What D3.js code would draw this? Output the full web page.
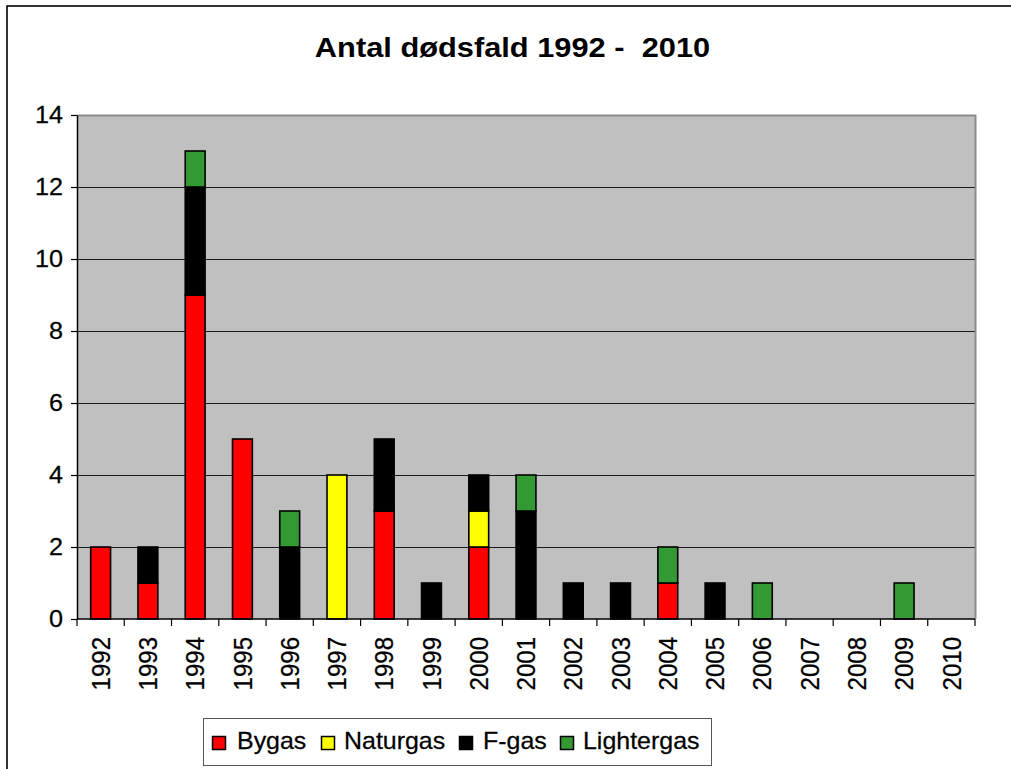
<!DOCTYPE html>
<html>
<head>
<meta charset="utf-8">
<script src="https://cdn.jsdelivr.net/npm/d3@7"></script>
<style>
  html, body { margin: 0; padding: 0; background: #fff; }
  svg { display: block; font-family: "Liberation Sans", Arial, sans-serif; }
  text { white-space: pre; }
</style>
</head>
<body>
<svg id="chart" width="1011" height="769"></svg>
<script>
const title = "Antal dødsfald 1992 -  2010";
const years = ["1992","1993","1994","1995","1996","1997","1998","1999","2000","2001","2002","2003","2004","2005","2006","2007","2008","2009","2010"];
const seriesNames = ["Bygas","Naturgas","F-gas","Lightergas"];
const seriesColors = ["#ff0000","#ffff00","#000000","#339933"];
const bygas      = [2,1,9,5,0,0,3,0,2,0,0,0,1,0,0,0,0,0,0];
const naturgas   = [0,0,0,0,0,4,0,0,1,0,0,0,0,0,0,0,0,0,0];
const fgas       = [0,1,3,0,2,0,2,1,1,3,1,1,0,1,0,0,0,0,0];
const lightergas = [0,0,1,0,1,0,0,0,0,1,0,0,1,0,1,0,0,1,0];
const yTicks = [0,2,4,6,8,10,12,14];

const svg = d3.select("#chart");
const plot = {left: 77, right: 975, top: 115, bottom: 619};

// outer chart border (extends beyond view)
svg.append("rect").attr("x",7).attr("y",6).attr("width",1100).attr("height",900)
  .attr("fill","#fff").attr("stroke","#000").attr("stroke-width",1.6);

// title
const tg = svg.append("g").attr("transform","translate(512.5,57) scale(1.1,1)");
tg.append("text").attr("x",0).attr("y",0).attr("text-anchor","middle")
  .attr("font-weight","bold").attr("font-size",28).attr("fill","#000").text(title);

const x = d3.scaleBand().domain(years).range([plot.left, plot.right]).paddingInner(0).paddingOuter(0);
const y = d3.scaleLinear().domain([0,14]).range([plot.bottom, plot.top]);

// plot area
svg.append("rect").attr("x",plot.left).attr("y",plot.top)
  .attr("width",plot.right-plot.left).attr("height",plot.bottom-plot.top)
  .attr("fill","#c0c0c0");

// gridlines
svg.append("g").selectAll("line").data(yTicks.filter(d=>d>0 && d<14)).join("line")
  .attr("x1",plot.left).attr("x2",plot.right)
  .attr("y1",d=>Math.round(y(d))+0.5).attr("y2",d=>Math.round(y(d))+0.5)
  .attr("stroke","#1a1a1a").attr("stroke-width",1.2);

// plot border top & right
svg.append("path").attr("d",`M${plot.left},${plot.top+0.5}H${plot.right+0.5}V${plot.bottom}`)
  .attr("fill","none").attr("stroke","#8c8c8c").attr("stroke-width",2);

// stacked data
const table = years.map((yr,i)=>({year:yr, Bygas:bygas[i], Naturgas:naturgas[i], "F-gas":fgas[i], Lightergas:lightergas[i]}));
const stack = d3.stack().keys(seriesNames)(table);
const barW = x.bandwidth()*0.42;
svg.append("g").selectAll("g").data(stack).join("g")
  .attr("fill",(d,i)=>seriesColors[i])
  .selectAll("rect").data(d=>d.filter(p=>p[1]-p[0]>0)).join("rect")
  .attr("x",d=>x(d.data.year)+(x.bandwidth()-barW)/2)
  .attr("y",d=>y(d[1]))
  .attr("width",barW)
  .attr("height",d=>y(d[0])-y(d[1]))
  .attr("stroke","#000").attr("stroke-width",1.6);

// y axis
const yAxis = svg.append("g").attr("transform",`translate(${plot.left},0)`)
  .call(d3.axisLeft(y).tickValues(yTicks).tickSize(6).tickPadding(8).tickSizeOuter(0));
yAxis.select(".domain").attr("stroke","#000").attr("stroke-width",1.5);
yAxis.selectAll(".tick line").attr("stroke","#000").attr("stroke-width",1.2);
yAxis.selectAll(".tick text").attr("font-size",24).attr("fill","#000")
  .attr("stroke","#000").attr("stroke-width",0.25)
  .attr("font-family","'Liberation Sans', Arial, sans-serif")
  .each(function(){
    const el = d3.select(this);
    const xx = +el.attr("x");
    el.attr("transform","scale(1.05,1)").attr("x", xx/1.05);
  });

// x axis: ticks at band boundaries
const xAxisG = svg.append("g");
xAxisG.append("line").attr("x1",plot.left).attr("x2",plot.right)
  .attr("y1",plot.bottom).attr("y2",plot.bottom).attr("stroke","#000").attr("stroke-width",1.5);
const boundaries = years.map(d=>x(d)).concat([plot.right]);
xAxisG.selectAll("line.tk").data(boundaries).join("line").attr("class","tk")
  .attr("x1",d=>d).attr("x2",d=>d).attr("y1",plot.bottom).attr("y2",plot.bottom+7)
  .attr("stroke","#000").attr("stroke-width",1.2);
xAxisG.selectAll("text").data(years).join("text")
  .attr("transform",d=>`translate(${x(d)+x.bandwidth()/2},637) rotate(-90) scale(1,1.06)`)
  .attr("text-anchor","end").attr("dy","0.36em")
  .attr("stroke","#000").attr("stroke-width",0.25)
  .attr("font-size",24).attr("fill","#000").text(d=>d);

// legend
const lg = svg.append("g");
lg.append("rect").attr("x",203.5).attr("y",718.5).attr("width",508).attr("height",47)
  .attr("fill","#fff").attr("stroke","#555").attr("stroke-width",1);
const legendSquareX = [212,321,459,560];
const legendTextX = [237,344,483,583];
seriesNames.forEach((name,i)=>{
  lg.append("rect").attr("x",legendSquareX[i]+0.5).attr("y",736.5).attr("width",13).attr("height",13)
    .attr("fill",seriesColors[i]).attr("stroke","#000").attr("stroke-width",1.5);
  lg.append("g").attr("transform",`translate(${legendTextX[i]},749) scale(1.04,1)`)
    .append("text").attr("x",0).attr("y",0)
    .attr("stroke","#000").attr("stroke-width",0.25)
    .attr("font-size",24).attr("fill","#000").text(name);
});
</script>
</body>
</html>
